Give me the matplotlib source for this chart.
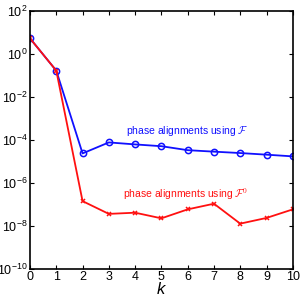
import numpy as np
import matplotlib
matplotlib.use('Agg')
import matplotlib.pyplot as plt
from matplotlib.ticker import FixedLocator, NullLocator

plt.rcParams['font.family'] = ['Liberation Sans', 'DejaVu Sans']
plt.rcParams['mathtext.fontset'] = 'cm'

k = [0, 1, 2, 3, 4, 5, 6, 7, 8, 9, 10]
err_F = [5.4, 0.17, 2.4e-5, 7.8e-5, 6.3e-5, 5.2e-5, 3.4e-5, 2.9e-5, 2.5e-5, 2.1e-5, 1.75e-5]
err_F0 = [5.4, 0.17, 1.45e-7, 3.7e-8, 4.2e-8, 2.3e-8, 6.0e-8, 1.1e-7, 1.3e-8, 2.4e-8, 6.0e-8]
ytick_exp = [2, 0, -2, -4, -6, -8, -10]

fig = plt.figure(figsize=(3, 3), dpi=100)
ax = fig.add_axes([0.10, 0.103, 0.876, 0.86])

ax.semilogy(k, err_F, '-o', color='#1010ff', lw=1.3, ms=4.5, mfc='none', mew=1.1)
ax.semilogy(k, err_F0, '-x', color='#ff1010', lw=1.3, ms=3.5, mew=1.1)

ax.set_xlim(0, 10)
ax.set_ylim(1e-10, 1e2)
ax.set_xticks(k)
ax.yaxis.set_major_locator(FixedLocator([10.0 ** e for e in ytick_exp]))
ax.yaxis.set_minor_locator(NullLocator())
ax.set_yticklabels([r'$\mathregular{10^{%d}}$' % e for e in ytick_exp])
ax.tick_params(direction='in', top=True, right=True, labelsize=9, length=3, width=0.8, pad=1.5)
for s in ax.spines.values():
    s.set_linewidth(1.2)
ax.set_xlabel('k', fontsize=12, style='italic', labelpad=-1)

ax.text(3.65, 1.9e-4, r'phase alignments using $\mathcal{F}$', color='#1010ff', fontsize=7.5)
ax.text(3.55, 2.0e-7, r'phase alignments using $\mathcal{F}^0$', color='#ff1010', fontsize=7.5)

fig.savefig('out.png', dpi=100)
